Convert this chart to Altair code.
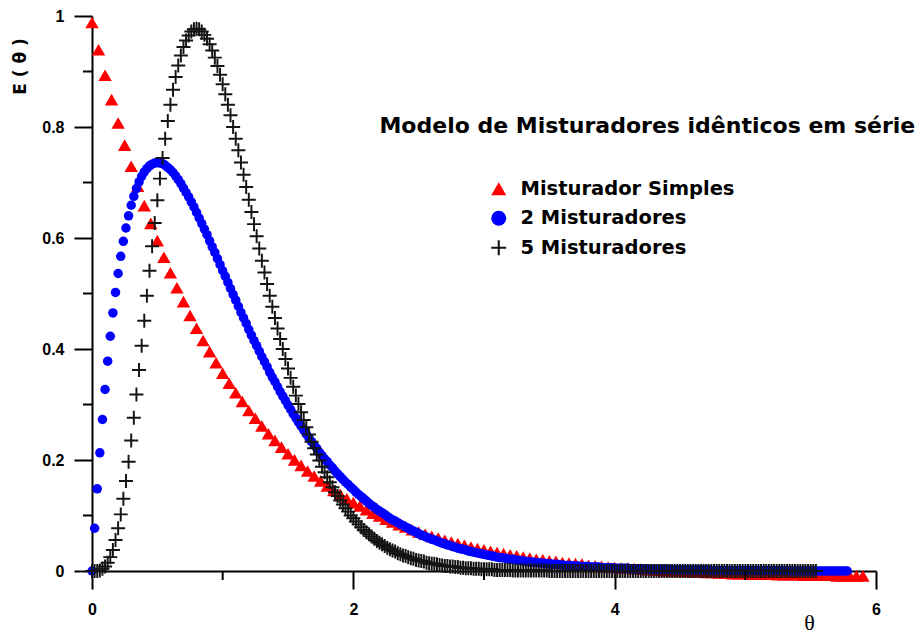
import altair as alt
import pandas as pd

# ---- values ----
names = ["Misturador Simples", "2 Misturadores", "5 Misturadores"]
colors = ["#ff0000", "#0000ff", "#141414"]

# Misturador Simples, theta step 0.05 from 0 to 5.9
E1 = [1.000, 0.951, 0.905, 0.861, 0.819, 0.779, 0.741, 0.705, 0.670, 0.638,
      0.607, 0.577, 0.549, 0.522, 0.497, 0.472, 0.449, 0.427, 0.407, 0.387,
      0.368, 0.350, 0.333, 0.317, 0.301, 0.287, 0.273, 0.259, 0.247, 0.235,
      0.223, 0.212, 0.202, 0.192, 0.183, 0.174, 0.165, 0.157, 0.150, 0.142,
      0.135, 0.129, 0.122, 0.116, 0.111, 0.105, 0.100, 0.095, 0.091, 0.086,
      0.082, 0.078, 0.074, 0.071, 0.067, 0.064, 0.061, 0.058, 0.055, 0.052,
      0.050, 0.047, 0.045, 0.043, 0.041, 0.039, 0.037, 0.035, 0.033, 0.032,
      0.030, 0.029, 0.027, 0.026, 0.025, 0.024, 0.022, 0.021, 0.020, 0.019,
      0.018, 0.017, 0.017, 0.016, 0.015, 0.014, 0.014, 0.013, 0.012, 0.012,
      0.011, 0.011, 0.010, 0.010, 0.009, 0.009, 0.008, 0.008, 0.007, 0.007,
      0.007, 0.006, 0.006, 0.006, 0.006, 0.005, 0.005, 0.005, 0.005, 0.004,
      0.004, 0.004, 0.004, 0.004, 0.003, 0.003, 0.003, 0.003, 0.003]

# 2 Misturadores, theta step 0.02 from 0 to 5.78
E2 = [0.000, 0.077, 0.148, 0.213, 0.273, 0.327, 0.378, 0.423, 0.465, 0.502,
      0.536, 0.567, 0.594, 0.618, 0.640, 0.659, 0.675, 0.689, 0.701, 0.711,
      0.719, 0.725, 0.730, 0.733, 0.735, 0.736, 0.735, 0.734, 0.731, 0.727,
      0.723, 0.718, 0.712, 0.705, 0.698, 0.690, 0.682, 0.674, 0.665, 0.656,
      0.646, 0.636, 0.626, 0.616, 0.606, 0.595, 0.584, 0.574, 0.563, 0.552,
      0.541, 0.531, 0.520, 0.509, 0.498, 0.488, 0.477, 0.466, 0.456, 0.446,
      0.435, 0.425, 0.415, 0.406, 0.396, 0.386, 0.377, 0.368, 0.358, 0.349,
      0.341, 0.332, 0.323, 0.315, 0.307, 0.299, 0.291, 0.283, 0.276, 0.268,
      0.261, 0.254, 0.247, 0.240, 0.233, 0.227, 0.221, 0.214, 0.208, 0.202,
      0.197, 0.191, 0.186, 0.180, 0.175, 0.170, 0.165, 0.160, 0.156, 0.151,
      0.147, 0.142, 0.138, 0.134, 0.130, 0.126, 0.122, 0.118, 0.115, 0.111,
      0.108, 0.105, 0.102, 0.098, 0.095, 0.092, 0.090, 0.087, 0.084, 0.082,
      0.079, 0.077, 0.074, 0.072, 0.070, 0.067, 0.065, 0.063, 0.061, 0.059,
      0.057, 0.056, 0.054, 0.052, 0.050, 0.049, 0.047, 0.046, 0.044, 0.043,
      0.041, 0.040, 0.039, 0.038, 0.036, 0.035, 0.034, 0.033, 0.032, 0.031,
      0.030, 0.029, 0.028, 0.027, 0.026, 0.025, 0.024, 0.024, 0.023, 0.022,
      0.021, 0.021, 0.020, 0.019, 0.019, 0.018, 0.017, 0.017, 0.016, 0.016,
      0.015, 0.015, 0.014, 0.014, 0.013, 0.013, 0.012, 0.012, 0.012, 0.011,
      0.011, 0.010, 0.010, 0.010, 0.009, 0.009, 0.009, 0.008, 0.008, 0.008,
      0.008, 0.007, 0.007, 0.007, 0.007, 0.006, 0.006, 0.006, 0.006, 0.006,
      0.005, 0.005, 0.005, 0.005, 0.005, 0.005, 0.004, 0.004, 0.004, 0.004,
      0.004, 0.004, 0.004, 0.003, 0.003, 0.003, 0.003, 0.003, 0.003, 0.003,
      0.003, 0.003, 0.002, 0.002, 0.002, 0.002, 0.002, 0.002, 0.002, 0.002,
      0.002, 0.002, 0.002, 0.002, 0.002, 0.002, 0.002, 0.001, 0.001, 0.001,
      0.001, 0.001, 0.001, 0.001, 0.001, 0.001, 0.001, 0.001, 0.001, 0.001,
      0.001, 0.001, 0.001, 0.001, 0.001, 0.001, 0.001, 0.001, 0.001, 0.001,
      0.001, 0.001, 0.001, 0.001, 0.001, 0.001, 0.001, 0.000, 0.000, 0.000,
      0.000, 0.000, 0.000, 0.000, 0.000, 0.000, 0.000, 0.000, 0.000, 0.000,
      0.000, 0.000, 0.000, 0.000, 0.000, 0.000, 0.000, 0.000, 0.000, 0.000]

# 5 Misturadores, theta step 0.02 from 0 to 5.74
E5 = [0.000, 0.000, 0.000, 0.001, 0.004, 0.008, 0.015, 0.025, 0.038, 0.056,
      0.077, 0.102, 0.130, 0.162, 0.197, 0.235, 0.276, 0.318, 0.362, 0.406,
      0.451, 0.496, 0.541, 0.585, 0.627, 0.668, 0.707, 0.744, 0.779, 0.811,
      0.840, 0.867, 0.890, 0.911, 0.929, 0.944, 0.956, 0.965, 0.972, 0.976,
      0.977, 0.976, 0.972, 0.966, 0.959, 0.949, 0.938, 0.925, 0.910, 0.894,
      0.877, 0.859, 0.840, 0.821, 0.800, 0.779, 0.758, 0.736, 0.714, 0.692,
      0.669, 0.647, 0.625, 0.603, 0.581, 0.559, 0.538, 0.517, 0.496, 0.476,
      0.456, 0.437, 0.418, 0.400, 0.382, 0.365, 0.348, 0.332, 0.316, 0.301,
      0.286, 0.272, 0.259, 0.246, 0.233, 0.221, 0.210, 0.199, 0.188, 0.178,
      0.169, 0.160, 0.151, 0.142, 0.135, 0.127, 0.120, 0.113, 0.107, 0.100,
      0.095, 0.089, 0.084, 0.079, 0.074, 0.070, 0.066, 0.062, 0.058, 0.054,
      0.051, 0.048, 0.045, 0.042, 0.039, 0.037, 0.035, 0.032, 0.030, 0.028,
      0.027, 0.025, 0.023, 0.022, 0.020, 0.019, 0.018, 0.017, 0.015, 0.014,
      0.013, 0.013, 0.012, 0.011, 0.010, 0.009, 0.009, 0.008, 0.008, 0.007,
      0.007, 0.006, 0.006, 0.005, 0.005, 0.005, 0.004, 0.004, 0.004, 0.003,
      0.003, 0.003, 0.003, 0.003, 0.002, 0.002, 0.002, 0.002, 0.002, 0.002,
      0.002, 0.001, 0.001, 0.001, 0.001, 0.001, 0.001, 0.001, 0.001, 0.001,
      0.001, 0.001, 0.001, 0.001, 0.001, 0.000, 0.000, 0.000, 0.000, 0.000,
      0.000, 0.000, 0.000, 0.000, 0.000, 0.000, 0.000, 0.000, 0.000, 0.000,
      0.000, 0.000, 0.000, 0.000, 0.000, 0.000, 0.000, 0.000, 0.000, 0.000,
      0.000, 0.000, 0.000, 0.000, 0.000, 0.000, 0.000, 0.000, 0.000, 0.000,
      0.000, 0.000, 0.000, 0.000, 0.000, 0.000, 0.000, 0.000, 0.000, 0.000,
      0.000, 0.000, 0.000, 0.000, 0.000, 0.000, 0.000, 0.000, 0.000, 0.000,
      0.000, 0.000, 0.000, 0.000, 0.000, 0.000, 0.000, 0.000, 0.000, 0.000,
      0.000, 0.000, 0.000, 0.000, 0.000, 0.000, 0.000, 0.000, 0.000, 0.000,
      0.000, 0.000, 0.000, 0.000, 0.000, 0.000, 0.000, 0.000, 0.000, 0.000,
      0.000, 0.000, 0.000, 0.000, 0.000, 0.000, 0.000, 0.000, 0.000, 0.000,
      0.000, 0.000, 0.000, 0.000, 0.000, 0.000, 0.000, 0.000]

x_major = [0, 2, 4, 6]
x_minor = [1, 3, 5]
y_major = [0, 0.2, 0.4, 0.6, 0.8, 1]
y_minor = [0.1, 0.3, 0.5, 0.7, 0.9]
title_text = "Modelo de Misturadores idênticos em série"
title_pos = (2.200, 0.790)

theta1 = [round(i * 0.05, 2) for i in range(len(E1))]
theta2 = [round(i * 0.02, 2) for i in range(len(E2))]
theta5 = [round(i * 0.02, 2) for i in range(len(E5))]

df1 = pd.DataFrame({"theta": theta1, "E": E1, "serie": names[0]})
df2 = pd.DataFrame({"theta": theta2, "E": E2, "serie": names[1]})
df5 = pd.DataFrame({"theta": theta5, "E": E5, "serie": names[2]})

PLUS = ("M-1,-0.14L-0.14,-0.14L-0.14,-1L0.14,-1L0.14,-0.14L1,-0.14L1,0.14"
        "L0.14,0.14L0.14,1L-0.14,1L-0.14,0.14L-1,0.14Z")
shapes = ["triangle-up", "circle", PLUS]

PLOT_H = 555

X = alt.X("theta:Q",
          scale=alt.Scale(domain=[0, 6], nice=False, zero=False),
          axis=alt.Axis(values=x_major, format="~g", tickSize=18, tickWidth=2,
                        tickColor="black", domainColor="black", domainWidth=2,
                        labelFont="Liberation Sans", labelFontWeight="bold",
                        labelFontSize=16, labelColor="black", labelPadding=12,
                        labelFlush=False, labelOverlap=False, grid=False,
                        title="θ", titleFont="Liberation Serif",
                        titleFontWeight="normal", titleFontSize=22,
                        titleColor="black", titleX=717, titleY=51,
                        titleAlign="center", titleBaseline="middle"))
Y = alt.Y("E:Q",
          scale=alt.Scale(domain=[0, 1], nice=False),
          axis=alt.Axis(values=y_major, format="~g", tickSize=18, tickWidth=2,
                        tickColor="black", domainColor="black", domainWidth=2,
                        labelFont="Liberation Sans", labelFontWeight="bold",
                        labelFontSize=16, labelColor="black", labelPadding=10,
                        labelFlush=False, labelOverlap=False, grid=False,
                        title="E ( θ )", titleFont="DejaVu Sans",
                        titleFontWeight="bold", titleFontSize=17,
                        titleColor="black", titleAngle=270, titleX=-72,
                        titleY=50, titleAlign="center",
                        titleBaseline="middle"))

leg = dict(title=None, orient="none", legendX=397, legendY=163,
           symbolSize=225, symbolStrokeWidth=0, symbolOpacity=1,
           labelFont="DejaVu Sans", labelFontWeight="bold",
           labelFontSize=19.5, labelColor="black", labelOffset=12,
           rowPadding=8.5, padding=0, labelLimit=500)
color = alt.Color("serie:N", scale=alt.Scale(domain=names, range=colors),
                  legend=alt.Legend(**leg))
shape = alt.Shape("serie:N", scale=alt.Scale(domain=names, range=shapes),
                  legend=alt.Legend(**leg))

red = alt.Chart(df1).mark_point(filled=True, size=180, opacity=1,
                                strokeWidth=0, yOffset=6.5).encode(
    x=X, y=Y, color=color, shape=shape)
blue = alt.Chart(df2).mark_point(filled=True, size=90, opacity=1,
                                 strokeWidth=0).encode(
    x=X, y=Y, color=color, shape=shape)
black = alt.Chart(df5).mark_point(filled=True, size=196, opacity=1,
                                  strokeWidth=0).encode(
    x=X, y=Y, color=color, shape=shape)

xminor = alt.Chart(pd.DataFrame({"theta": x_minor})).mark_rule(
    color="black", strokeWidth=2).encode(
    x="theta:Q", y=alt.value(PLOT_H), y2=alt.value(PLOT_H + 9))
yminor = alt.Chart(pd.DataFrame({"E": y_minor})).mark_rule(
    color="black", strokeWidth=2).encode(
    y="E:Q", x=alt.value(-9), x2=alt.value(0))

title = alt.Chart(pd.DataFrame({"theta": [title_pos[0]], "E": [title_pos[1]],
                                "label": [title_text]})).mark_text(
    align="left", baseline="alphabetic", font="DejaVu Sans",
    fontWeight="bold", fontSize=22, color="black").encode(
    x="theta:Q", y="E:Q", text="label:N")

chart = alt.layer(red, blue, black, xminor, yminor, title).properties(
    width=784, height=PLOT_H,
    padding={"left": 84, "top": 8, "right": 40, "bottom": 64},
    autosize=alt.AutoSizeParams(type="none"),
    background="white",
).configure_view(stroke=None)

chart.save("out.html", embed_options={"renderer": "svg", "actions": False})
